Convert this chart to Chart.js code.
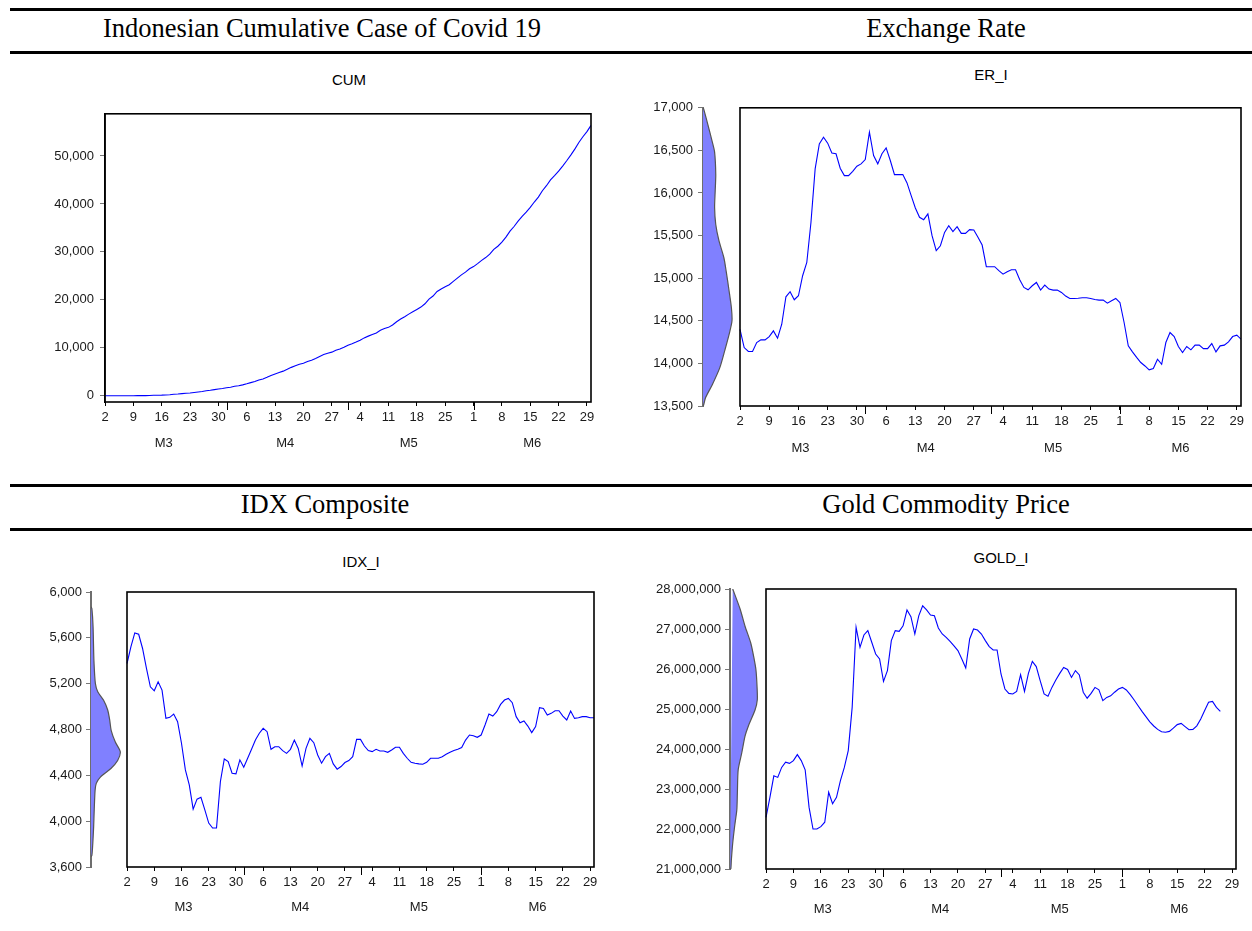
<!DOCTYPE html>
<html>
<head>
<meta charset="utf-8">
<script src="https://cdn.jsdelivr.net/npm/chart.js@4.4.1/dist/chart.umd.min.js"></script>
<style>
  body { margin: 0; background: #fff; width: 1252px; height: 931px; position: relative; overflow: hidden;
         font-family: "Liberation Sans", Arial, sans-serif; }
  .rule { position: absolute; left: 10px; width: 1242px; height: 3px; background: #000; }
  .head { position: absolute; font-family: "Liberation Serif", "Times New Roman", serif; font-size: 26.5px;
          line-height: 26px; color: #000; white-space: nowrap; transform: translateX(-50%); }
  .sub { position: absolute; font-size: 15px; line-height: 15px; color: #000; white-space: nowrap;
         transform: translate(-50%, -50%); }
  canvas { position: absolute; }
</style>
</head>
<body>
<div class="rule" style="top:8px"></div>
<div class="rule" style="top:51px"></div>
<div class="rule" style="top:484px"></div>
<div class="rule" style="top:528px"></div>
<div class="head" style="left:322px;top:15px">Indonesian Cumulative Case of Covid 19</div>
<div class="head" style="left:946px;top:15px">Exchange Rate</div>
<div class="head" style="left:325px;top:491px">IDX Composite</div>
<div class="head" style="left:946px;top:491px">Gold Commodity Price</div>
<div class="sub" style="left:349px;top:79px">CUM</div>
<div class="sub" style="left:991px;top:74px">ER_I</div>
<div class="sub" style="left:361px;top:561px">IDX_I</div>
<div class="sub" style="left:1001px;top:557px">GOLD_I</div>

<script>
// daily observations, 2 March .. 30 June 2020 (day 0 .. 120)
const lastDay = 120;
const weekDays = [0, 7, 14, 21, 28, 35, 42, 49, 56, 63, 70, 77, 84, 91, 98, 105, 112, 119];
const weekLabels = ['2', '9', '16', '23', '30', '6', '13', '20', '27', '4', '11', '18', '25', '1', '8', '15', '22', '29'];
const monthStartDays = [30, 60, 91];
const monthMidDays = [14.5, 44.5, 75, 105.5];
const monthLabels = ['M3', 'M4', 'M5', 'M6'];

const cumCases = [
    2, 2, 2, 2, 4, 4, 6, 19, 27, 34, 34, 69, 96, 117, 134, 172, 227, 309, 369, 450,
    514, 579, 686, 790, 893, 1046, 1155, 1285, 1414, 1528, 1677, 1790, 1986, 2092, 2273, 2491, 2738, 2956, 3293, 3512,
    3842, 4241, 4557, 4839, 5136, 5516, 5923, 6248, 6575, 6760, 7135, 7418, 7775, 8211, 8607, 8882, 9096, 9511, 9771, 10118,
    10551, 10843, 11192, 11587, 12071, 12438, 12776, 13112, 13645, 14032, 14265, 14749, 15438, 16006, 16496, 17025, 17514, 18010, 18496, 19189,
    20162, 20796, 21745, 22271, 22750, 23165, 23851, 24538, 25216, 25773, 26473, 26940, 27549, 28233, 28818, 29521, 30514, 31186, 32033, 33076,
    34316, 35295, 36406, 37420, 38277, 39294, 40400, 41431, 42762, 43803, 45029, 45891, 46845, 47896, 49009, 50187, 51427, 52812, 54010, 55092,
    56385
];
const cumTicks = [0, 10000, 20000, 30000, 40000, 50000];

const erRate = [
    14400, 14186, 14140, 14140, 14245, 14276, 14276, 14315, 14382, 14296,
    14460, 14782, 14841, 14747, 14794, 15029, 15185, 15656, 16283, 16577,
    16655, 16585, 16470, 16460, 16291, 16204, 16204, 16255, 16314, 16342,
    16393, 16714, 16440, 16342, 16460, 16530, 16381, 16216, 16216, 16216,
    16118, 15969, 15824, 15715, 15687, 15754, 15499, 15323, 15381, 15538,
    15617, 15546, 15605, 15526, 15526, 15570, 15566, 15480, 15389, 15135,
    15135, 15135, 15088, 15048, 15076, 15100, 15100, 14982, 14892, 14864,
    14911, 14950, 14860, 14919, 14872, 14860, 14860, 14833, 14790, 14762,
    14762, 14765, 14770, 14770, 14762, 14750, 14743, 14743, 14707, 14735,
    14762, 14715, 14480, 14206, 14135, 14070, 14010, 13970, 13924, 13939,
    14049, 13990, 14245, 14362, 14315, 14198, 14127, 14198, 14159, 14214,
    14214, 14174, 14174, 14233, 14135, 14206, 14214, 14253, 14315, 14331,
    14284
];
const erTicks = [13500, 14000, 14500, 15000, 15500, 16000, 16500, 17000];
const erDensLevels = [17000, 16990, 16800, 16600, 16480, 16220, 16020, 15830, 15630, 15440, 15240, 15080, 14850, 14650, 14500, 14340, 14150, 13950, 13750, 13600, 13510, 13500];
const erDensity    = [0, 0.02, 0.17, 0.32, 0.40, 0.44, 0.42, 0.40, 0.44, 0.55, 0.72, 0.80, 0.90, 0.98, 1.00, 0.90, 0.75, 0.58, 0.32, 0.09, 0.02, 0];

const idxClose = [
    5376, 5521, 5643, 5631, 5507, 5333, 5173, 5138, 5216, 5144,
    4897, 4906, 4935, 4868, 4680, 4447, 4317, 4105, 4192, 4209,
    4099, 3983, 3940, 3940, 4346, 4543, 4520, 4418, 4413, 4535,
    4471, 4549, 4627, 4708, 4767, 4810, 4781, 4627, 4650, 4650,
    4616, 4592, 4627, 4708, 4635, 4481, 4635, 4723, 4685, 4578,
    4506, 4563, 4592, 4500, 4454, 4477, 4512, 4529, 4563, 4714,
    4714, 4656, 4616, 4607, 4627, 4613, 4613, 4601, 4621, 4645,
    4645, 4592, 4549, 4514, 4506, 4500, 4497, 4514, 4549, 4549,
    4549, 4563, 4584, 4601, 4616, 4627, 4642, 4708, 4752, 4746,
    4732, 4752, 4839, 4935, 4917, 4955, 5019, 5057, 5071, 5034,
    4912, 4859, 4874, 4830, 4773, 4825, 4990, 4984, 4926, 4941,
    4964, 4964, 4917, 4883, 4961, 4897, 4903, 4912, 4912, 4903,
    4903
];
const idxTicks = [3600, 4000, 4400, 4800, 5200, 5600, 6000];
const idxDensLevels = [5870, 5855, 5700, 5400, 5200, 5130, 5055, 4970, 4880, 4790, 4690, 4605, 4530, 4460, 4385, 4330, 4270, 4100, 3950, 3800, 3700, 3690];
const idxDensity    = [0, 0.03, 0.07, 0.10, 0.15, 0.23, 0.43, 0.57, 0.64, 0.69, 0.83, 1.00, 0.91, 0.68, 0.32, 0.18, 0.14, 0.11, 0.09, 0.06, 0.03, 0];

const goldPrice = [
    22290000, 22790000, 23330000, 23290000, 23540000, 23670000, 23640000, 23710000, 23860000, 23710000,
    23480000, 22540000, 22000000, 22000000, 22060000, 22170000, 22920000, 22630000, 22790000, 23210000,
    23540000, 23960000, 25040000, 27040000, 26540000, 26850000, 26960000, 26670000, 26375000, 26250000,
    25690000, 25960000, 26710000, 26960000, 26940000, 27080000, 27475000, 27310000, 26875000, 27330000,
    27580000, 27480000, 27350000, 27330000, 27025000, 26875000, 26790000, 26690000, 26580000, 26460000,
    26250000, 26025000, 26750000, 27000000, 26975000, 26875000, 26710000, 26560000, 26475000, 26475000,
    25875000, 25500000, 25390000, 25375000, 25440000, 25860000, 25440000, 25890000, 26190000, 26060000,
    25710000, 25375000, 25320000, 25540000, 25725000, 25890000, 26040000, 25990000, 25790000, 25960000,
    25850000, 25420000, 25270000, 25390000, 25540000, 25480000, 25210000, 25290000, 25330000, 25420000,
    25500000, 25540000, 25475000, 25360000, 25225000, 25080000, 24940000, 24810000, 24680000, 24575000,
    24490000, 24430000, 24420000, 24440000, 24520000, 24610000, 24640000, 24560000, 24480000, 24490000,
    24580000, 24750000, 24960000, 25170000, 25190000, 25040000, 24940000, null, null, null,
    null
];
const goldTicks = [21000000, 22000000, 23000000, 24000000, 25000000, 26000000, 27000000, 28000000];
const goldDensLevels = [28000000, 27500000, 27070000, 26650000, 26230000, 25980000, 25570000, 25230000, 24980000, 24570000, 24320000, 23900000, 23480000, 22900000, 22480000, 22070000, 21650000, 21230000, 21000000, 21000000];
const goldDensity    = [0.10, 0.37, 0.55, 0.76, 0.89, 0.95, 0.99, 1.00, 0.92, 0.67, 0.55, 0.43, 0.30, 0.27, 0.25, 0.17, 0.10, 0.05, 0.03, 0];

const tickFont = { family: '"Liberation Sans", Arial, sans-serif', size: 13 };
const textColor = '#1a1a1a';

function commas(v) {
    return String(v).replace(/\B(?=(\d{3})+(?!\d))/g, ',');
}

// frame round the series area and the long month ticks, both placed through the scales
const framePlugin = {
    id: 'frame',
    afterDatasetsDraw(chart) {
        const {ctx, chartArea, scales} = chart;
        const left = scales.x.getPixelForValue(0);
        ctx.save();
        ctx.strokeStyle = '#000';
        ctx.lineWidth = 1.6;
        ctx.strokeRect(left, chartArea.top, chartArea.right - left, chartArea.bottom - chartArea.top);
        ctx.lineWidth = 1;
        ctx.beginPath();
        monthStartDays.forEach(d => {
            const px = Math.round(scales.x.getPixelForValue(d)) + 0.5;
            ctx.moveTo(px, chartArea.bottom);
            ctx.lineTo(px, chartArea.bottom + 8);
        });
        ctx.stroke();
        ctx.restore();
    }
};

function makePanel(p) {
    const canvas = document.createElement('canvas');
    canvas.width = p.w;
    canvas.height = p.h;
    canvas.style.left = p.left + 'px';
    canvas.style.top = p.top + 'px';
    document.body.appendChild(canvas);

    const areaW = p.w - p.yW - p.padR;
    const xMin = p.gap ? -p.gap * lastDay / (areaW - p.gap) : 0;

    let datasets = [{
        data: p.values.map((v, i) => ({x: i, y: v})),
        xAxisID: 'x',
        yAxisID: 'y',
        borderColor: '#0000ff',
        borderWidth: 1.1,
        pointRadius: 0,
        tension: 0,
        fill: false
    }];
    if (p.densLevels) {
        datasets.push({
            data: p.densLevels.map((v, i) => ({x: p.density[i], y: v})),
            xAxisID: 'xd',
            yAxisID: 'y',
            borderColor: '#555555',
            borderWidth: 1.2,
            backgroundColor: '#8080ff',
            fill: 'shape',
            pointRadius: 0,
            tension: 0.25
        });
    }

    let scales = {
        x: {
            type: 'linear', position: 'bottom', min: xMin, max: lastDay, weight: 0,
            afterBuildTicks: s => { s.ticks = weekDays.map(v => ({value: v})); },
            afterFit: s => { s.height = 24; },
            ticks: { callback: (v, i) => weekLabels[i], font: tickFont, color: textColor, padding: 4,
                     autoSkip: false, maxRotation: 0 },
            grid: { drawOnChartArea: false, drawTicks: true, tickLength: 4, color: '#000', lineWidth: 1 },
            border: { display: false }
        },
        xm: {
            type: 'linear', position: 'bottom', min: xMin, max: lastDay, weight: 1,
            afterBuildTicks: s => { s.ticks = monthMidDays.map(v => ({value: v})); },
            afterFit: s => { s.height = 26; },
            ticks: { callback: (v, i) => monthLabels[i], font: tickFont, color: textColor, padding: p.monthPad,
                     autoSkip: false, maxRotation: 0 },
            grid: { display: false, drawTicks: false },
            border: { display: false }
        },
        y: {
            type: 'linear', position: 'left', min: p.yMin, max: p.yMax,
            afterBuildTicks: s => { s.ticks = p.yTicks.map(v => ({value: v})); },
            afterFit: s => { s.width = p.yW; },
            ticks: { callback: v => commas(v), font: tickFont, color: textColor, padding: p.yPad },
            grid: { drawOnChartArea: false, tickLength: 5, color: '#777', lineWidth: 1 },
            border: { display: true, color: p.densLevels ? '#6e6e6e' : '#000', width: p.densLevels ? 2 : 1.6 }
        }
    };
    if (p.densLevels) {
        scales.xd = { type: 'linear', display: false, min: 0, max: areaW / p.peakPx };
    }

    return new Chart(canvas.getContext('2d'), {
        type: 'line',
        data: { datasets: datasets },
        options: {
            responsive: false,
            animation: false,
            events: [],
            layout: { padding: { left: 0, right: p.padR, top: 12, bottom: 4 } },
            plugins: { legend: { display: false }, tooltip: { enabled: false }, title: { display: false } },
            scales: scales
        },
        plugins: [framePlugin]
    });
}

makePanel({ left: 0, top: 100, w: 603, h: 356, yW: 105, padR: 12, gap: 0, yPad: 6, monthPad: 10,
            values: cumCases, yMin: -1300, yMax: 58800, yTicks: cumTicks });

makePanel({ left: 630, top: 95, w: 622, h: 365, yW: 73, padR: 11, gap: 37, yPad: 5, monthPad: 11,
            values: erRate, yMin: 13500, yMax: 17000, yTicks: erTicks,
            densLevels: erDensLevels, density: erDensity, peakPx: 29 });

makePanel({ left: 0, top: 580, w: 604, h: 341, yW: 91, padR: 10, gap: 36, yPad: 4, monthPad: 9,
            values: idxClose, yMin: 3600, yMax: 6000, yTicks: idxTicks,
            densLevels: idxDensLevels, density: idxDensity, peakPx: 29.3 });

makePanel({ left: 630, top: 577, w: 618, h: 346, yW: 100, padR: 12, gap: 36, yPad: 4, monthPad: 9,
            values: goldPrice, yMin: 21000000, yMax: 28000000, yTicks: goldTicks,
            densLevels: goldDensLevels, density: goldDensity, peakPx: 27.3 });
</script>
</body>
</html>
